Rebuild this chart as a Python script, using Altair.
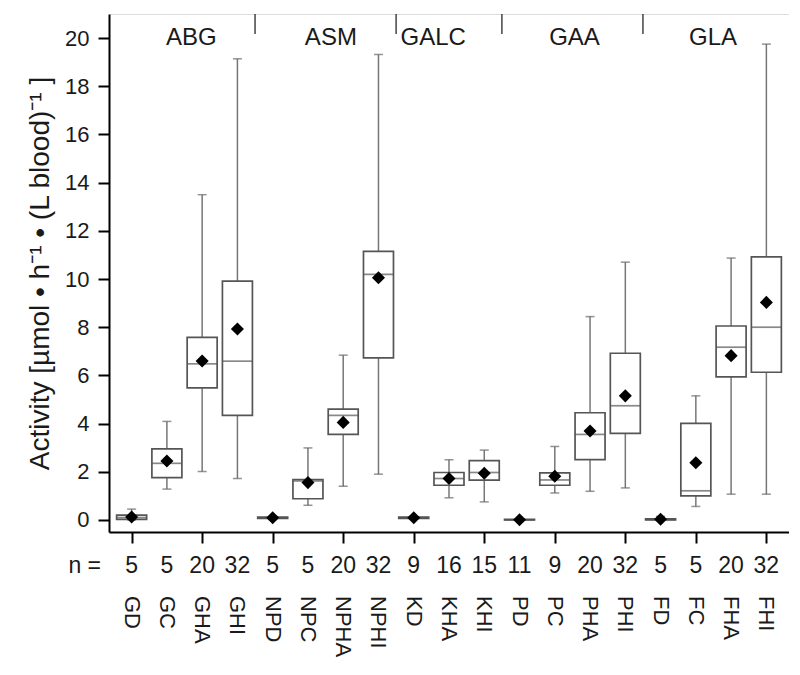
import altair as alt
import pandas as pd

cats = ["GD", "GC", "GHA", "GHI", "NPD", "NPC", "NPHA", "NPHI", "KD", "KHA", "KHI",
        "PD", "PC", "PHA", "PHI", "FD", "FC", "FHA", "FHI"]
n_vals = [5, 5, 20, 32, 5, 5, 20, 32, 9, 16, 15, 11, 9, 20, 32, 5, 5, 20, 32]
wmin = [0.0, 1.28, 2.01, 1.72, 0.02, 0.61, 1.40, 1.90, 0.03, 0.92, 0.75, 0.0, 1.12, 1.19, 1.33, 0.0, 0.56, 1.07, 1.07]
q1 = [0.02, 1.76, 5.48, 4.34, 0.06, 0.88, 3.55, 6.73, 0.06, 1.44, 1.65, 0.0, 1.44, 2.50, 3.59, 0.0, 1.00, 5.94, 6.13]
med = [0.10, 2.35, 6.48, 6.59, 0.09, 1.62, 4.34, 10.19, 0.09, 1.72, 1.97, 0.0, 1.66, 3.55, 4.74, 0.02, 1.21, 7.17, 8.00]
q3 = [0.20, 2.95, 7.58, 9.91, 0.12, 1.68, 4.60, 11.15, 0.12, 1.97, 2.46, 0.02, 1.95, 4.45, 6.92, 0.05, 4.01, 8.05, 10.92]
wmax = [0.45, 4.09, 13.50, 19.14, 0.15, 2.99, 6.84, 19.32, 0.14, 2.50, 2.90, 0.04, 3.05, 8.44, 10.70, 0.15, 5.15, 10.87, 19.75]
means = [0.12, 2.45, 6.60, 7.93, 0.09, 1.55, 4.05, 10.05, 0.09, 1.72, 1.94, 0.01, 1.81, 3.69, 5.15, 0.03, 2.37, 6.82, 9.03]

groups = ["ABG", "ASM", "GALC", "GAA", "GLA"]
group_pos = [1.69, 5.65, 8.55, 12.56, 16.49]
separators = [3.5, 7.5, 10.5, 14.5]

df = pd.DataFrame({
    "idx": list(range(len(cats))), "cat": cats, "n": n_vals,
    "wmin": wmin, "q1": q1, "med": med, "q3": q3, "wmax": wmax, "mean": means,
})
gdf = pd.DataFrame({"group": groups, "pos": group_pos})
sdf = pd.DataFrame({"sep": separators})

W, H = 680, 518
FONT = "Liberation Sans"
TXT = "#1a1a1a"

xscale = alt.Scale(domain=[-0.5, len(cats) - 0.5], nice=False, zero=False)
yscale = alt.Scale(domain=[-0.5, 21], nice=False, zero=False)

x_enc = alt.X("idx:Q", scale=xscale, axis=alt.Axis(
    values=list(range(len(cats))), labels=False, tickSize=11, tickColor="black",
    tickWidth=2, grid=False, title=None, domainColor="black", domainWidth=2))

y_axis = alt.Axis(
    values=list(range(0, 21)),
    labelExpr="datum.value % 2 == 0 ? datum.label : ''",
    tickSize={"condition": {"test": "datum.value % 2 == 1", "value": 6}, "value": 11},
    tickColor="black", tickWidth=2, labelPadding=9, labelFontSize=22, labelFont=FONT,
    labelColor=TXT, grid=False, domainColor="black", domainWidth=2, labelOverlap=False,
    title="Activity [µmol • h⁻¹ • (L blood)⁻¹ ]", titleFont=FONT, titleFontSize=28,
    titleFontWeight="normal", titleColor=TXT, titlePadding=10)

base = alt.Chart(df)

whisk = base.mark_rule(color="#777", strokeWidth=1.5).encode(
    x=x_enc, y=alt.Y("wmin:Q", scale=yscale, axis=y_axis), y2="wmax:Q")
cap_lo = base.mark_tick(color="#666", orient="horizontal", size=9, thickness=1.5).encode(
    x="idx:Q", y="wmin:Q")
cap_hi = base.mark_tick(color="#666", orient="horizontal", size=9, thickness=1.5).encode(
    x="idx:Q", y="wmax:Q")
box = base.mark_bar(fill="white", stroke="#555", strokeWidth=1.7, size=30).encode(
    x="idx:Q", y="q1:Q", y2="q3:Q")
median = base.mark_tick(color="#555", orient="horizontal", size=30, thickness=1.7).encode(
    x="idx:Q", y="med:Q")
mean = base.mark_point(shape="diamond", filled=True, color="black", size=170, opacity=1).encode(
    x="idx:Q", y="mean:Q")
ntext = base.mark_text(fontSize=23, font=FONT, color=TXT, baseline="middle").encode(
    x="idx:Q", y=alt.value(H + 34), text="n:Q")
cattext = base.mark_text(fontSize=22, font=FONT, color=TXT, baseline="middle",
                         align="left", angle=90).encode(
    x="idx:Q", y=alt.value(H + 64), text="cat:N")
nlabel = alt.Chart(pd.DataFrame({"t": ["n ="]})).mark_text(
    fontSize=23, font=FONT, color=TXT, baseline="middle", align="right").encode(
    x=alt.value(-8), y=alt.value(H + 34), text="t:N")
grp = alt.Chart(gdf).mark_text(fontSize=24, font=FONT, color=TXT, baseline="middle").encode(
    x=alt.X("pos:Q", scale=xscale), y=alt.value(24), text="group:N")
sep = alt.Chart(sdf).mark_rule(color="#444", strokeWidth=1.5).encode(
    x=alt.X("sep:Q", scale=xscale), y=alt.value(0), y2=alt.value(20))

chart = alt.layer(whisk, cap_lo, cap_hi, box, median, mean, ntext, cattext, nlabel, grp, sep).properties(
    width=W, height=H, padding={"left": 18, "top": 5, "right": 0, "bottom": 5}
).configure_view(stroke="black", strokeWidth=2).configure(background="white")

chart.save("out.html", embed_options={"renderer": "svg", "actions": False})
